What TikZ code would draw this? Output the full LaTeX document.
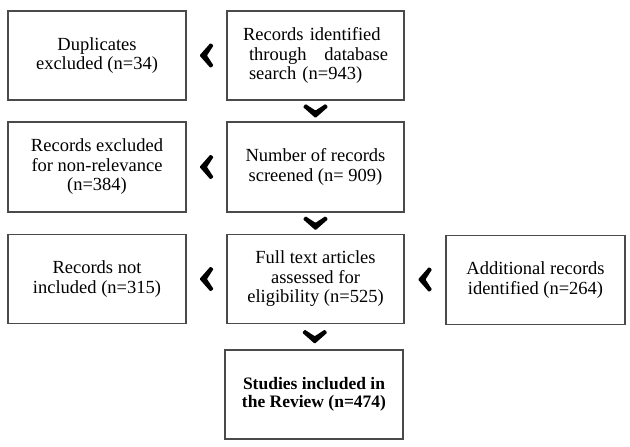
\documentclass[tikz,border=0pt]{standalone}
\usepackage{fontspec}
\setmainfont{Liberation Serif}
\usetikzlibrary{calc}
\definecolor{boxline}{HTML}{4A4A4A}
\tikzset{
  box/.style={draw=boxline, line width=1.2pt, minimum width=178pt, minimum height=89pt,
    inner sep=0pt, align=center, font=\fontsize{18.5}{19.5}\selectfont},
  chev/.pic={
    \fill[black, rounded corners=0.8pt] (-12.5pt,4pt) -- (0,-7pt) -- (12.5pt,4pt) -- (10pt,7pt) -- (0,0.5pt) -- (-10pt,7pt) -- cycle;
  }
}
\begin{document}
\begin{tikzpicture}[x=1pt,y=-1pt]
\useasboundingbox (0,0) rectangle (630,447);
\fill[white] (0,0) rectangle (630,447);
\node[box] (dup) at (97,55.5) {Duplicates\\excluded (n=34)};
\node[box, minimum width=177pt, text width=145pt, align=left] (rec) at (315.5,55.5)
  {Records identified\\\hspace*{6pt}through\hfill database\\\hspace*{6pt}search (n=943)};
\node[box, minimum height=90pt] (excl) at (97,167) {Records excluded\\for non-relevance\\(n=384)};
\node[box, minimum width=177pt, minimum height=90pt] (scr) at (315.5,167) {Number of records\\screened (n= 909)};
\node[box] (notinc) at (97,279) {Records not\\included (n=315)};
\node[box, minimum width=177pt] (full) at (315.5,279) {Full text articles\\assessed for\\eligibility (n=525)};
\node[box, minimum width=179pt] (add) at (535.5,280) {Additional records\\identified (n=264)};
\node[box, line width=1.4pt, font=\fontsize{17.5}{18}\selectfont\bfseries] (stud) at (314,394.5) {Studies included in\\the Review (n=474)};
% chevrons
\pic[rotate=-90] at ($(dup.east)!0.5!(rec.west)$) {chev};
\pic[rotate=-90] at ($(excl.east)!0.5!(scr.west)$) {chev};
\pic[rotate=-90] at ($(notinc.east)!0.5!(full.west)$) {chev};
\pic[rotate=-90] at ($(full.east)!0.5!(add.west)$) {chev};
\pic at ($(rec.south)!0.5!(scr.north)$) {chev};
\pic at ($(scr.south)!0.5!(full.north)$) {chev};
\pic at ($(full.south)!0.5!(stud.north)$) {chev};
\end{tikzpicture}
\end{document}
